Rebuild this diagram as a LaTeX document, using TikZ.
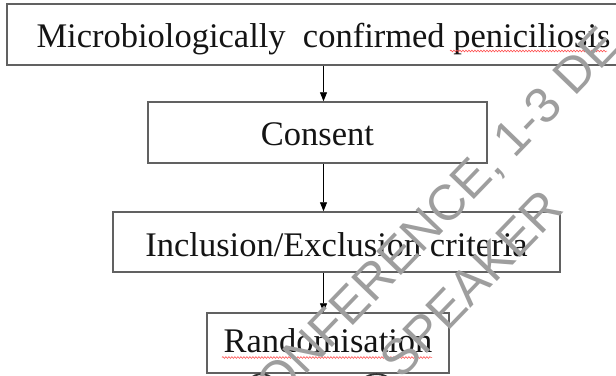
\documentclass[tikz,border=0pt]{standalone}
\usepackage{fontspec}
\setmainfont{Liberation Serif}
\newfontfamily\wmfont{Liberation Sans}
\usetikzlibrary{arrows.meta,decorations.pathmorphing}
\tikzset{
  boxnode/.style={draw=black!62, line width=1.5pt, fill=white, inner sep=0pt,
    text=black!92, font=\fontsize{34.5}{36}\selectfont, anchor=center},
  arr/.style={black, line width=0.8pt, -{Triangle[length=9pt,width=7pt]}},
  spell/.style={red!75, line width=0.5pt, decorate,
    decoration={snake, amplitude=0.9pt, segment length=3pt}},
  wmark/.style={text=black!38, font=\wmfont\fontsize{50}{52}\selectfont,
    rotate=46, inner sep=0pt, anchor=center},
  stub/.style={black!80, line width=1.8pt}
}
\begin{document}
\begin{tikzpicture}[x=1pt,y=-1pt]
\useasboundingbox (0,0) rectangle (616,375);
\clip (0,0) rectangle (616,375);
\fill[white] (0,0) rectangle (616,375);
% boxes
\node[boxnode, minimum width=633pt, minimum height=61pt, text height=25pt, text depth=0pt]
  (micro) at (323.5,34.5) {Microbiologically\hspace{0.5em}confirmed peniciliosis\hspace{10pt}};
\node[boxnode, minimum width=339pt, minimum height=61pt, text height=25pt, text depth=0pt]
  (consent) at (317.5,132.5) {Consent};
\node[boxnode, minimum width=447pt, minimum height=60pt, text height=28pt, text depth=0pt]
  (incl) at (336.5,242) {Inclusion/Exclusion criteria};
\node[boxnode, minimum width=242pt, minimum height=60pt, text height=25pt, text depth=7pt]
  (rand) at (328,343) {Randomisation};
% arrow axis
\coordinate (ax) at (323.5,0);
\draw[arr] (micro.south -| ax) -- (consent.north -| ax);
\draw[arr] (consent.south -| ax) -- (incl.north -| ax);
\draw[arr] (incl.south -| ax) -- (rand.north -| ax);
% spell-check underlines
\draw[spell] (450,51) -- (607,51);
\draw[spell] (222,357.5) -- (432,357.5);
% cut-off shapes below the last box
\draw[stub] (250,379) .. controls (256,372.5) and (267,372.5) .. (273,379);
\draw[stub] (363,379) .. controls (370,372.5) and (383,372.5) .. (390,379);
% watermark
\node[wmark] (wm1) at (427,229) {CONFERENCE, 1-3 DE};
\node[wmark] (wm2) at (471,284) {SPEAKER};
\end{tikzpicture}
\end{document}
